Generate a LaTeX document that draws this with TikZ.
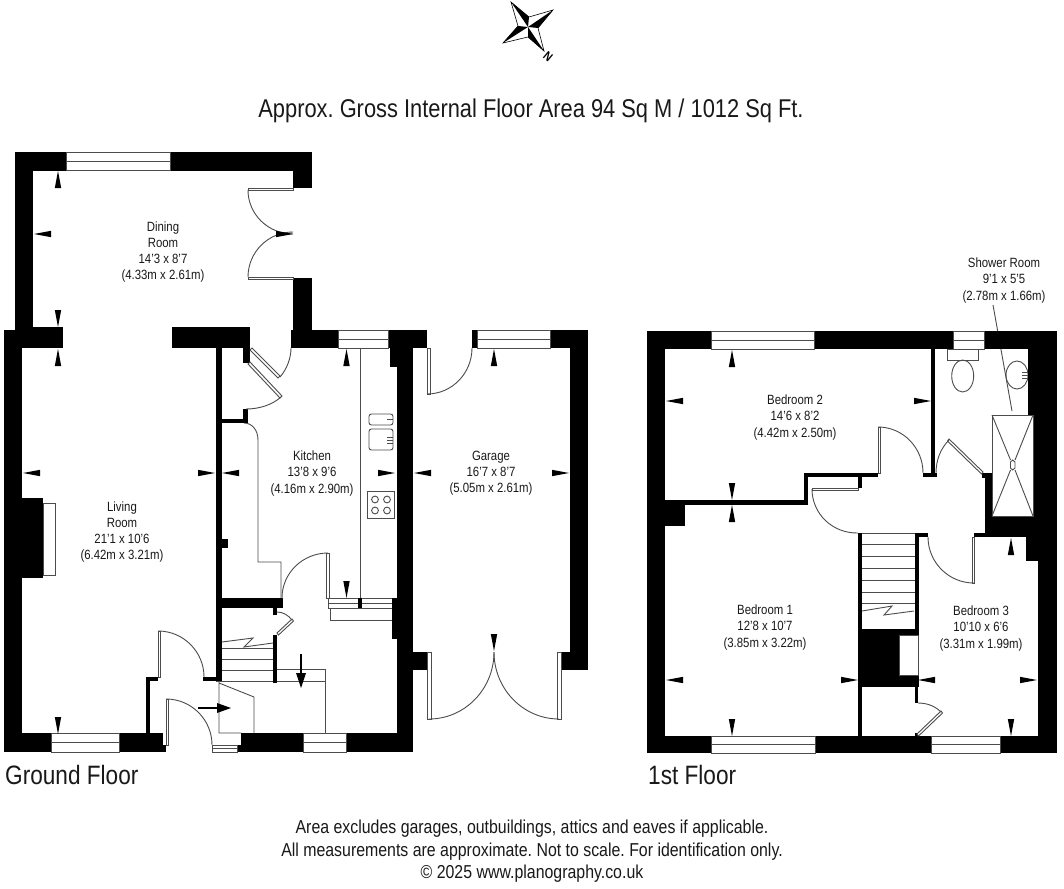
\documentclass[tikz,border=0pt]{standalone}
\usepackage{fontspec}
\setmainfont[FakeStretch=0.85]{Liberation Sans}
\AtBeginDocument{\frenchspacing}
\newcommand\wl[4]{\fill[black] (#1,#2) rectangle (#3,#4);}
\newcommand\win[4]{\draw[thinl,fill=white] (#1,#2) rectangle (#3,#4);\draw[thinl] (#1,{(#2+#4)/2}) -- (#3,{(#2+#4)/2});}
\newcommand\bx[4]{\draw[thinl,fill=white] (#1,#2) rectangle (#3,#4);}
\newcommand\qarc[6]{\draw[thinl] (#1,#2) .. controls ({#1+0.5523*(#5-#3)},{#2+0.5523*(#6-#4)}) and ({#5+0.5523*(#1-#3)},{#6+0.5523*(#2-#4)}) .. (#5,#6);}
\newcommand\tipU[2]{\fill[black] ({#1-3.2},{#2+17}) -- (#1,#2) -- ({#1+3.2},{#2+17}) -- cycle;}
\newcommand\tipD[2]{\fill[black] ({#1-3.2},{#2-17}) -- (#1,#2) -- ({#1+3.2},{#2-17}) -- cycle;}
\newcommand\tipL[2]{\fill[black] ({#1+17},{#2-3.2}) -- (#1,#2) -- ({#1+17},{#2+3.2}) -- cycle;}
\newcommand\tipR[2]{\fill[black] ({#1-17},{#2-3.2}) -- (#1,#2) -- ({#1-17},{#2+3.2}) -- cycle;}
\tikzset{
 thinl/.style={draw=black!70,line width=0.9pt},
 room/.style={inner sep=0pt,align=center,text=black!90,font=\fontsize{13.4}{16.2}\selectfont},
 foot/.style={inner sep=0pt,align=center,text=black!90,font=\fontsize{18.7}{22.5}\selectfont},
 flr/.style={inner sep=0pt,anchor=west,text=black!90,font=\fontsize{26.6}{30}\selectfont},
}
\begin{document}
\begin{tikzpicture}[x=1pt,y=-1pt]
\useasboundingbox (0,0) rectangle (1064,888);
\fill[white] (0,0) rectangle (1064,888);
% compass
\fill[black] (511,2) -- (528,27) -- (529,17) -- cycle;
\fill[black] (553,10) -- (528,27) -- (538,28) -- cycle;
\fill[black] (544,51) -- (528,27) -- (528,37) -- cycle;
\fill[black] (503,43) -- (528,27) -- (518,26) -- cycle;
\draw[black,line width=0.6pt] (511,2) -- (529,17) -- (553,10) -- (538,28) -- (544,51) -- (528,37) -- (503,43) -- (518,26) -- cycle;
\node[inner sep=0pt,rotate=-40,font=\bfseries\fontsize{12.5}{12.5}\selectfont] (north) at (548,56.5) {N};
% texts
\node[inner sep=0pt,text=black!90,font=\fontsize{25.7}{28}\selectfont] (title) at (531,110.5) {Approx. Gross Internal Floor Area 94 Sq M / 1012 Sq Ft.};
\node[foot] (footer) at (532,851.5) {Area excludes garages, outbuildings, attics and eaves if applicable.\\All measurements are approximate. Not to scale. For identification only.\\© 2025 www.planography.co.uk};
\node[flr] (gf) at (5,775) {Ground Floor};
\node[flr] (ff) at (648,775) {1st Floor};
\node[room] (dining) at (163,252) {Dining\\Room\\14'3 x 8'7\\(4.33m x 2.61m)};
\node[room] (living) at (122,532) {Living\\Room\\21'1 x 10'6\\(6.42m x 3.21m)};
\node[room] (kitchen) at (312,473.5) {Kitchen\\13'8 x 9'6\\(4.16m x 2.90m)};
\node[room] (garage) at (491,473.5) {Garage\\16'7 x 8'7\\(5.05m x 2.61m)};
\node[room] (bed2) at (795,417.5) {Bedroom 2\\14'6 x 8'2\\(4.42m x 2.50m)};
\node[room] (bed1) at (765,627.5) {Bedroom 1\\12'8 x 10'7\\(3.85m x 3.22m)};
\node[room] (bed3) at (981,628.5) {Bedroom 3\\10'10 x 6'6\\(3.31m x 1.99m)};
\node[room] (shower) at (1004,280.5) {Shower Room\\9'1 x 5'5\\(2.78m x 1.66m)};
%% GROUND FLOOR thin furniture
\draw[thinl] (360,348) -- (360,598);
\draw[thinl] (216,648) -- (273,648) (216,659) -- (273,659) (216,670) -- (273,670) (216,681) -- (273,681);
\draw[thinl] (222,642) -- (253,638) -- (244,647) -- (273,643);
\draw[thinl] (277,669) -- (325,669) -- (325,733) (277,681) -- (325,681);
\draw[thinl] (219,681) -- (219,733) -- (241,733) (219,683) -- (254,697) -- (254,733);
\draw[thinl] (244,423) .. controls (252,423) and (258,430) .. (258,440) -- (258,562) -- (281,562) -- (281,598);
\draw[thinl,rounded corners=2.5pt] (369,414) rectangle (393,425);
\draw[thinl,rounded corners=2.5pt] (369,429) rectangle (393,450);
\draw[thinl] (387,419) -- (393,419) (387,437) -- (393,437) (387,440) -- (393,440) (387,443) -- (393,443);
\draw[thinl] (367,491) rectangle (394,518);
\foreach \hx/\hy in {375/499.5,387/499.5,375/510.5,387/510.5}{\draw[thinl] (\hx,\hy) circle (3.4);}
\bx{328}{598}{392}{603}\bx{328}{603}{392}{608}\bx{330}{608}{392}{620}
\wl{358}{598}{362}{608}
% walls ground floor
\wl{15}{152}{312}{171}
\wl{15}{152}{33}{330}
\wl{293}{152}{312}{188}
\wl{293}{278}{312}{348}
\wl{4}{330}{63}{348}
\wl{15}{327}{63}{348}
\wl{4}{330}{22}{752}
\wl{172}{327}{250}{348}
\wl{216}{348}{222}{681}
\wl{243}{348}{250}{363}
\wl{291}{330}{338}{348}
\wl{388}{330}{588}{348}
\wl{390}{348}{397}{367}
\wl{397}{330}{413}{752}
\wl{392}{598}{397}{639}
\wl{413}{652}{427}{670}
\wl{570}{330}{588}{670}
\wl{562}{652}{588}{670}
\wl{243}{409}{248}{423}
\wl{222}{419}{248}{423}
\wl{222}{539}{228}{548}
\wl{222}{598}{283}{608}
\wl{273}{608}{277}{615}
\wl{273}{635}{277}{683}
\wl{22}{498}{43}{578}
\wl{4}{733}{163}{752}
\wl{163}{745}{166}{752}
\wl{146}{677}{150}{733}
\wl{146}{677}{158}{681}
\wl{203}{677}{216}{681}
\wl{241}{733}{413}{752}
\wl{237}{745}{241}{752}
\fill[white] (427,329) rectangle (472,348.5);
\wl{472}{330}{477}{348}
% windows
\win{66}{152}{170}{170.5}
\win{338}{330}{388}{348}
\win{477}{330}{550}{348}
\win{51}{733}{119}{752}
\win{303}{733}{346}{752}
\win{212}{745}{237}{752}
\bx{43}{503}{55}{575}
% doors ground floor
\bx{248}{188}{293}{190}\bx{248}{277}{293}{279}
\qarc{248}{190}{293}{190}{293}{234}
\qarc{248}{277}{293}{277}{293}{232}
\draw[thinl,fill=white] (252,348) -- (280,376) -- (278,378) -- (250,350) -- cycle;
\draw[thinl,fill=white] (250,362) -- (282,396) -- (280,398) -- (248,364) -- cycle;
\draw[thinl] (280,377) .. controls (287,369) and (291,358) .. (291,348);
\draw[thinl] (281,397) .. controls (272,405) and (259,409) .. (246,409);
\bx{326}{553}{329}{598}
\qarc{328}{553}{328}{598}{282}{598}
\draw[thinl,fill=white] (292,619) -- (277,633) -- (278.5,635) -- (293.5,621) -- cycle;
\draw[thinl] (277,612) .. controls (283,612) and (288,615) .. (292,620);
\bx{158}{631}{160}{677}
\qarc{158}{631}{158}{677}{204}{677}
\bx{166}{699}{168}{745}
\qarc{166}{699}{166}{745}{212}{745}
\bx{427}{348}{430}{394}
\qarc{427}{394}{427}{348}{472}{348}
\bx{427}{652}{431}{719}
\bx{557}{652}{561}{719}
\qarc{429}{719}{429}{652}{494}{652}
\qarc{559}{719}{559}{652}{494}{652}
% arrows
\draw[black,line width=1.8pt] (301,654) -- (301,675);
\fill[black] (296,673) -- (306,673) -- (301,688) -- cycle;
\draw[black,line width=1.8pt] (198,708) -- (220,708);
\fill[black] (217,703) -- (231,708) -- (217,713) -- cycle;
% dimension marks, ground floor
\tipU{58}{171}\tipL{34}{234}\tipR{293}{234}\tipD{58}{327}\tipU{58}{349}
\tipL{23}{473}\tipR{215}{473}\tipL{222}{473}\tipR{395}{473}\tipL{414}{473}\tipR{569}{473}
\tipU{346.5}{349}\tipD{346.5}{598}\tipD{58}{734}\tipU{494}{349}\tipD{494}{651}
%% FIRST FLOOR
\draw[thinl] (858,544) -- (915,544) (858,556) -- (915,556) (858,568) -- (915,568) (858,580) -- (915,580) (858,592) -- (915,592) (858,603) -- (915,603);
\draw[thinl] (862,611) -- (892,606) -- (884,615) -- (914,611);
\draw[thinl] (858,533) -- (915,533);
\bx{947}{349}{978}{360}
\draw[thinl] (962.7,376) ellipse (11 and 16);
\draw[thinl] (1017,375) ellipse (11 and 14);
\draw[thinl] (1022,372) -- (1028,372) (1022,375) -- (1028,375) (1022,378) -- (1028,378);
\draw[thinl] (993,305) -- (1012,411);
% walls
\wl{647}{331}{1057}{349}
\wl{647}{331}{665}{753}
\wl{1028}{331}{1057}{415}
\wl{1033}{415}{1057}{537}
\wl{1038}{537}{1057}{753}
\wl{1026}{537}{1038}{561}
\wl{985}{473}{992}{537}
\wl{982}{473}{992}{478}
\wl{985}{516}{1038}{537}
\wl{974}{533}{992}{537}
\wl{647}{736}{1057}{753}
\wl{665}{500}{808}{505}
\wl{665}{505}{685}{526}
\wl{804}{473}{808}{505}
\wl{804}{473}{878}{477}
\wl{858}{477}{862}{488}
\wl{923}{473}{937}{477}
\wl{931}{349}{935}{473}
\wl{858}{533}{862}{736}
\wl{915}{533}{919}{629}
\wl{915}{533}{928}{537}
\wl{858}{629}{919}{687}
\wl{915}{687}{918}{703}
\wl{915}{733}{918}{736}
\bx{899}{635}{918}{675}
\win{711}{331}{814}{349}
\win{953}{331}{984}{349}
\win{711}{736}{815}{753}
\win{931}{736}{1000}{753}
% shower tray
\draw[thinl,fill=white] (992,415) rectangle (1033,516);
\draw[thinl] (992,415) -- (1010.5,460) (1033,415) -- (1015,460) (992,516) -- (1010.5,470) (1033,516) -- (1015,470);
\draw[thinl] (1010.5,462) -- (1012.7,460) -- (1015,462) -- (1015,468) -- (1012.7,470) -- (1010.5,468) -- cycle;
% doors
\bx{812}{488}{858}{490}
\qarc{812}{489}{858}{488}{858}{533}
\bx{878}{427}{880}{473}
\qarc{878}{427}{878}{473}{923}{473}
\draw[thinl,fill=white] (949,439) -- (983,472) -- (981.5,474) -- (947.5,441) -- cycle;
\draw[thinl] (936,473) .. controls (936,461) and (940,449) .. (949,440);
\bx{972}{537}{974}{583}
\qarc{974}{583}{974}{537}{928}{537}
\draw[thinl,fill=white] (941,711) -- (917,734) -- (918.5,736) -- (942.5,713) -- cycle;
\draw[thinl] (918,703) .. controls (927,703) and (935,706) .. (941,712);
% dimension marks, first floor
\tipU{732}{350}\tipL{666}{401}\tipR{931}{401}\tipD{732}{500}\tipU{732}{505}
\tipL{666}{680}\tipR{858}{680}\tipD{732}{736}
\tipU{1011}{538}\tipL{918}{680}\tipR{1037}{680}\tipD{1011}{736}
\end{tikzpicture}
\end{document}
